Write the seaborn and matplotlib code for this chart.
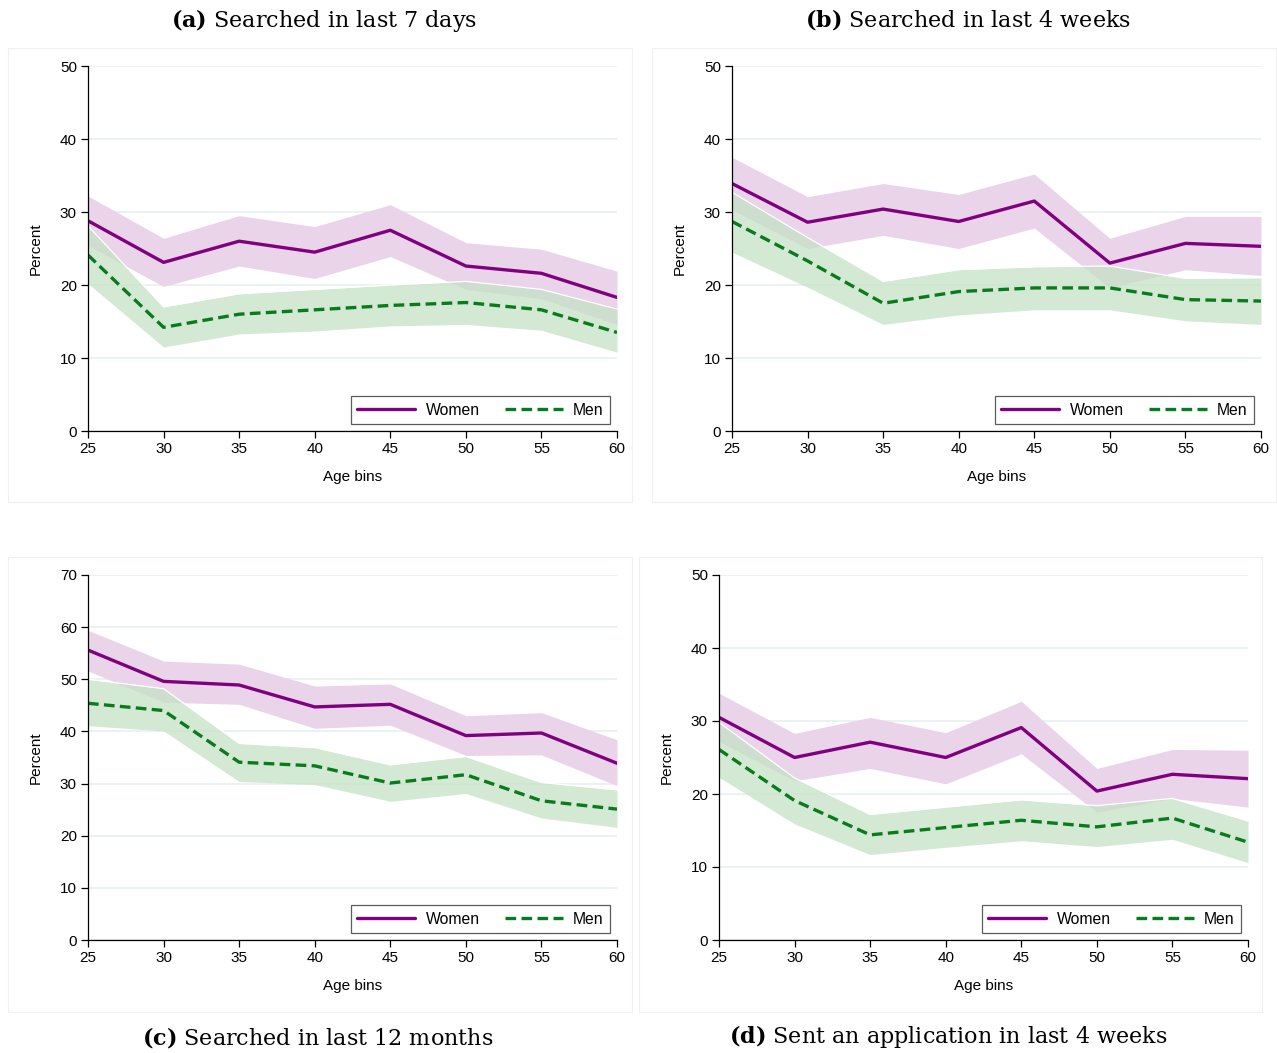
import numpy as np
import pandas as pd
import matplotlib
matplotlib.use("Agg")
import matplotlib.pyplot as plt
import seaborn as sns
from matplotlib.lines import Line2D
from matplotlib.patches import Rectangle

ages = [25, 30, 35, 40, 45, 50, 55, 60]

# (a) Searched in last 7 days
a_women = [28.8, 23.1, 26.0, 24.5, 27.5, 22.6, 21.6, 18.3]
a_women_hi = [32.2, 26.4, 29.5, 28.0, 31.0, 25.8, 24.9, 21.9]
a_women_lo = [25.4, 19.8, 22.6, 20.9, 23.9, 19.4, 18.1, 14.6]
a_men = [24.1, 14.2, 16.0, 16.6, 17.2, 17.6, 16.6, 13.5]
a_men_hi = [28.1, 17.0, 18.8, 19.4, 20.0, 20.5, 19.4, 16.7]
a_men_lo = [20.2, 11.5, 13.3, 13.7, 14.4, 14.6, 13.8, 10.8]

# (b) Searched in last 4 weeks
b_women = [33.9, 28.6, 30.4, 28.7, 31.5, 23.0, 25.7, 25.3]
b_women_hi = [37.5, 32.1, 33.9, 32.4, 35.2, 26.4, 29.4, 29.4]
b_women_lo = [30.3, 25.0, 26.8, 25.0, 27.8, 19.6, 22.1, 21.3]
b_men = [28.7, 23.3, 17.5, 19.1, 19.6, 19.6, 18.0, 17.8]
b_men_hi = [32.7, 26.5, 20.5, 22.1, 22.5, 22.6, 20.9, 21.0]
b_men_lo = [24.5, 19.7, 14.6, 15.9, 16.6, 16.6, 15.1, 14.6]

# (c) Searched in last 12 months
c_women = [55.6, 49.6, 48.9, 44.7, 45.2, 39.2, 39.7, 33.9]
c_women_hi = [59.4, 53.5, 52.9, 48.7, 49.1, 43.0, 43.6, 38.4]
c_women_lo = [51.6, 45.6, 45.2, 40.6, 41.2, 35.4, 35.5, 29.6]
c_men = [45.4, 44.0, 34.1, 33.4, 30.1, 31.7, 26.7, 25.1]
c_men_hi = [50.0, 48.2, 37.7, 36.9, 33.6, 35.2, 30.2, 28.8]
c_men_lo = [41.1, 40.1, 30.4, 29.8, 26.6, 28.1, 23.4, 21.6]

# (d) Sent an application in last 4 weeks
d_women = [30.5, 25.0, 27.1, 25.0, 29.1, 20.4, 22.7, 22.1]
d_women_hi = [33.8, 28.3, 30.5, 28.4, 32.7, 23.5, 26.1, 26.0]
d_women_lo = [27.2, 21.8, 23.5, 21.4, 25.5, 17.5, 19.4, 18.2]
d_men = [26.1, 19.1, 14.4, 15.4, 16.4, 15.5, 16.7, 13.4]
d_men_hi = [29.8, 22.2, 17.2, 18.2, 19.2, 18.4, 19.4, 16.3]
d_men_lo = [22.3, 15.9, 11.7, 12.7, 13.6, 12.8, 13.8, 10.6]

titles = [r"$\mathbf{(a)}$ Searched in last 7 days",
          r"$\mathbf{(b)}$ Searched in last 4 weeks",
          r"$\mathbf{(c)}$ Searched in last 12 months",
          r"$\mathbf{(d)}$ Sent an application in last 4 weeks"]

sns.set_theme(style="white")
plt.rcParams['font.family'] = ['Liberation Sans', 'DejaVu Sans']
plt.rcParams['mathtext.fontset'] = 'custom'
plt.rcParams['mathtext.bf'] = 'DejaVu Serif:bold'
plt.rcParams['mathtext.rm'] = 'DejaVu Serif'
plt.rcParams['text.color'] = 'black'
plt.rcParams['axes.labelcolor'] = 'black'
plt.rcParams['xtick.color'] = 'black'
plt.rcParams['ytick.color'] = 'black'

W, H = 1277, 1053
fig = plt.figure(figsize=(W / 100, H / 100), dpi=100)
fig.patch.set_facecolor('white')

WOMEN_C = '#800080'
MEN_C = '#0a7a1e'
WOMEN_FILL = (233/255, 212/255, 233/255, 1.0)
MEN_FILL = (198/255, 226/255, 198/255, 0.75)
GRID_C = '#e6eff1'
DASH = (0, (3.2, 1.6))


def ax_at(l, t, r, b):
    return fig.add_axes([l / W, 1 - b / H, (r - l) / W, (b - t) / H])


panels = [
    dict(box=(88, 66, 617, 431), ymax=50, region=(8, 48, 632, 502),
         w=a_women, wh=a_women_hi, wl=a_women_lo, m=a_men, mh=a_men_hi, ml=a_men_lo,
         tx=324, ty=20),
    dict(box=(732, 66, 1261, 431), ymax=50, region=(652, 48, 1276, 502),
         w=b_women, wh=b_women_hi, wl=b_women_lo, m=b_men, mh=b_men_hi, ml=b_men_lo,
         tx=968, ty=20),
    dict(box=(88, 575, 617, 940), ymax=70, region=(8, 557, 632, 1012),
         w=c_women, wh=c_women_hi, wl=c_women_lo, m=c_men, mh=c_men_hi, ml=c_men_lo,
         tx=318, ty=1037),
    dict(box=(719, 575, 1248, 940), ymax=50, region=(639, 557, 1262, 1012),
         w=d_women, wh=d_women_hi, wl=d_women_lo, m=d_men, mh=d_men_hi, ml=d_men_lo,
         tx=948, ty=1037),
]

for i, p in enumerate(panels):
    rl, rt, rr, rb = p['region']
    fig.patches.append(Rectangle((rl / W, 1 - rb / H), (rr - rl) / W, (rb - rt) / H,
                                 transform=fig.transFigure, fill=False,
                                 edgecolor='#f0f0f0', linewidth=0.8, zorder=0))
    ax = ax_at(*p['box'])
    ax.set_facecolor('none')
    ax.fill_between(ages, p['wl'], p['wh'], color=WOMEN_FILL, linewidth=0)
    ax.fill_between(ages, p['ml'], p['mh'], color=MEN_FILL, linewidth=0)
    ax.plot(ages, p['mh'], color='white', linewidth=0.9)
    df_w = pd.DataFrame({'age': ages, 'pct': p['w']})
    df_m = pd.DataFrame({'age': ages, 'pct': p['m']})
    sns.lineplot(data=df_w, x='age', y='pct', ax=ax, color=WOMEN_C, linewidth=2.4)
    sns.lineplot(data=df_m, x='age', y='pct', ax=ax, color=MEN_C, linewidth=2.4,
                 linestyle=DASH)
    ax.set_xlim(25, 60)
    ax.set_ylim(0, p['ymax'])
    ax.set_xticks(ages)
    ax.set_yticks(np.arange(0, p['ymax'] + 1, 10))
    ax.yaxis.grid(True, color=GRID_C, linewidth=1.1)
    ax.xaxis.grid(False)
    ax.set_axisbelow(True)
    for s in ['top', 'right']:
        ax.spines[s].set_visible(False)
    for s in ['left', 'bottom']:
        ax.spines[s].set_color('black')
        ax.spines[s].set_linewidth(0.9)
    ax.tick_params(axis='both', which='both', direction='out', length=5, width=0.9,
                   colors='black', labelsize=11, pad=3, left=True, bottom=True)
    ax.set_xlabel('Age bins', fontsize=11, labelpad=10)
    ax.set_ylabel('Percent', fontsize=11, labelpad=12)
    handles = [Line2D([0], [0], color=WOMEN_C, lw=2.4),
               Line2D([0], [0], color=MEN_C, lw=2.4, linestyle=DASH)]
    leg = ax.legend(handles, ['Women', 'Men'], ncol=2, loc='lower right',
                    bbox_to_anchor=(1 - 7 / 529, 7 / 365), borderaxespad=0,
                    frameon=True, fancybox=False, fontsize=11.3,
                    handlelength=3.7, handletextpad=0.65, columnspacing=1.6,
                    borderpad=0.4)
    leg.get_frame().set_edgecolor('#333333')
    leg.get_frame().set_linewidth(0.9)
    fig.text(p['tx'] / W, 1 - p['ty'] / H, titles[i], ha='center', va='center',
             fontsize=16, family='DejaVu Serif', color='black')

fig.savefig('out.png', dpi=100, facecolor='white')
